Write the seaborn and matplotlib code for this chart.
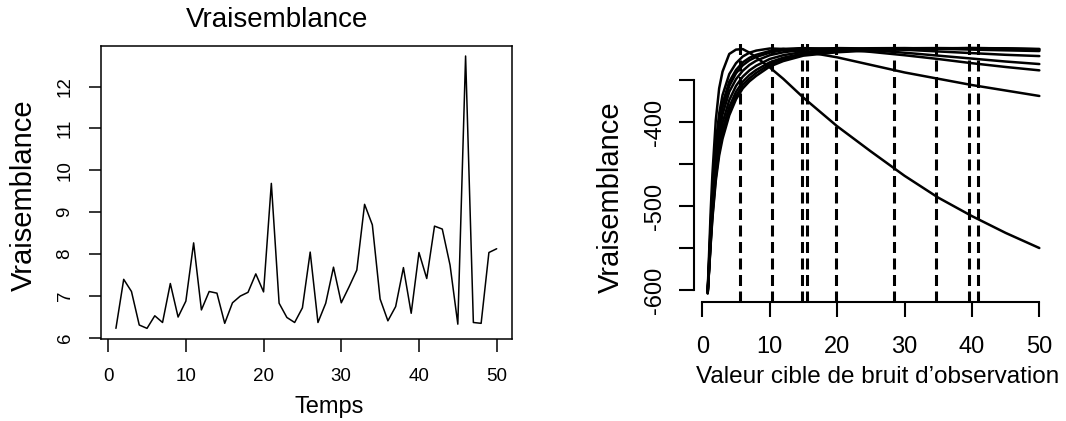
import matplotlib
matplotlib.use("Agg")
import matplotlib.pyplot as plt
import numpy as np
import pandas as pd
import seaborn as sns

# ---------------- Left panel data ----------------
temps = list(range(1, 51))
vraisemblance = [6.23, 7.40, 7.11, 6.31, 6.23, 6.53, 6.37, 7.30, 6.50, 6.88,
                 8.27, 6.67, 7.11, 7.07, 6.35, 6.84, 7.00, 7.09, 7.53, 7.10,
                 9.69, 6.83, 6.49, 6.37, 6.72, 8.05, 6.37, 6.83, 7.69, 6.84,
                 7.22, 7.62, 9.19, 8.70, 6.93, 6.41, 6.75, 7.68, 6.59, 8.04,
                 7.42, 8.67, 8.60, 7.74, 6.33, 12.73, 6.37, 6.35, 8.04, 8.13]
left_xticks = [0, 10, 20, 30, 40, 50]
left_yticks = [6, 7, 8, 9, 10, 11, 12]

# ---------------- Right panel data ----------------
bruit = [0.8, 1, 1.25, 1.5, 2, 2.5, 3, 4, 5, 6, 7, 8, 10, 12, 15, 20, 25, 30, 35, 40, 45, 50]
courbe_1 = [-600, -558, -505, -462, -398, -360, -340, -319, -313.8, -313.2, -317.5, -323,
            -335, -348.5, -371, -405, -435, -464, -490, -512, -532, -550]
courbe_2 = [-601, -566, -520, -482, -425, -390, -368, -343, -330, -322, -317.5, -315,
            -312.5, -313, -316, -323, -332, -341, -348.5, -356, -362.5, -369]
courbe_3 = [-602, -569, -526, -490, -435, -400, -378, -352, -338, -329, -323.5, -320,
            -315.5, -313, -312, -313.5, -316.5, -320.5, -325, -330, -334.5, -338.5]
courbe_4 = [-602, -571, -529, -494, -440, -405, -383, -357, -342, -332.5, -326.5, -322.5,
            -317.5, -314.5, -312.5, -312.5, -314.5, -317.5, -321, -324.5, -328, -331]
courbe_5 = [-603, -573, -533, -499, -447, -413, -391, -364, -349, -339, -332, -327,
            -320.5, -317, -314, -312, -312.5, -314, -316, -318, -320, -321.5]
courbe_6 = [-603, -575, -537, -504, -455, -422, -401, -374, -357, -346, -338.5, -333,
            -325, -320.5, -316.5, -313.5, -312.2, -312, -312.8, -313.8, -314.7, -315.5]
courbe_7 = [-603.5, -576, -540, -508, -461, -429, -409, -382, -364, -352, -344, -338,
            -329, -323.5, -318.5, -315, -313, -312.2, -312, -312.5, -313.5, -314.5]
courbe_8 = [-604, -577, -543, -512, -466, -435, -415, -388, -369, -356, -348, -341.5,
            -331.5, -325.5, -320, -316, -314, -312.8, -312.2, -312, -312.4, -313.5]
courbe_9 = [-604, -578, -545, -515, -470, -440, -420, -392, -373, -360, -351.5, -345,
            -334, -327.5, -321, -317, -314.8, -313.4, -312.5, -312, -312.3, -313]
cibles = [5.59, 10.39, 14.75, 15.49, 19.79, 28.40, 34.63, 39.52, 40.90]
right_xticks = [0, 10, 20, 30, 40, 50]
right_yticks = [-600, -550, -500, -450, -400, -350]
right_yticklabels = ["-600", "", "-500", "", "-400", ""]

courbes = [courbe_1, courbe_2, courbe_3, courbe_4, courbe_5,
           courbe_6, courbe_7, courbe_8, courbe_9]
rows = []
for k, c in enumerate(courbes):
    for xv, yv in zip(bruit, c):
        rows.append({"bruit": xv, "vraisemblance": yv, "courbe": f"c{k+1}"})
df_right = pd.DataFrame(rows)

# ---------------- Style ----------------
sns.set_theme(style="white")
plt.rcParams["font.family"] = ["Liberation Sans", "DejaVu Sans"]
plt.rcParams["axes.edgecolor"] = "black"
plt.rcParams["text.color"] = "black"
plt.rcParams["xtick.color"] = "black"
plt.rcParams["ytick.color"] = "black"
plt.rcParams["axes.labelcolor"] = "black"

W, H = 1066, 421
fig = plt.figure(figsize=(W / 100, H / 100), dpi=100)

# Left axes (pixel box: x 100.7-511.9, y 45.7-339)
l_left, l_right, l_top, l_bot = 100.7, 511.9, 45.7, 339.0
ax1 = fig.add_axes([l_left / W, 1 - l_bot / H, (l_right - l_left) / W, (l_bot - l_top) / H])
sns.lineplot(x=temps, y=vraisemblance, color="black", linewidth=1.1, ax=ax1)
ax1.set_xlim(-0.96, 51.96)
ax1.set_ylim(5.976, 12.976)
ax1.set_xticks(left_xticks)
ax1.set_yticks(left_yticks)
ax1.set_xticklabels([str(v) for v in left_xticks])
ax1.set_yticklabels([str(v) for v in left_yticks])
for s in ax1.spines.values():
    s.set_linewidth(1.1)
    s.set_color("black")
ax1.tick_params(axis="both", which="both", bottom=True, left=True, top=False, right=False,
                direction="out", length=9, width=1.1, labelsize=13.5)
ax1.tick_params(axis="x", pad=12)
ax1.tick_params(axis="y", pad=10.5)
for lbl in ax1.get_yticklabels():
    lbl.set_rotation(90)
    lbl.set_va("center")
    lbl.set_ha("right")
ax1.set_xlabel("Temps", fontsize=17)
ax1.xaxis.set_label_coords(0.555, -0.2308)
ax1.xaxis.label.set_va("center")
ax1.set_ylabel("Vraisemblance", fontsize=21)
ax1.yaxis.set_label_coords(-0.1865, 0.491)
ax1.yaxis.label.set_va("center")
ax1.set_title("Vraisemblance", fontsize=20, x=0.4287, y=1.0876, pad=0, va="center")

# Right axes (pixel region: x 694.3-1052.6, y 38-301.7)
r_left, r_right, r_top, r_bot = 694.3, 1052.6, 38.0, 301.7
ax2 = fig.add_axes([r_left / W, 1 - r_bot / H, (r_right - r_left) / W, (r_bot - r_top) / H])
sns.lineplot(data=df_right, x="bruit", y="vraisemblance", hue="courbe",
             palette=["black"] * len(courbes), legend=False, linewidth=1.8,
             estimator=None, ax=ax2)
for v in cibles:
    ax2.axvline(v, color="black", linewidth=2.2, linestyle=(0, (3.6, 1.8)))
ax2.set_xlim(-1.187, 51.97)
ax2.set_ylim(-613.9, -300)
ax2.set_xticks(right_xticks)
ax2.set_xticklabels([str(v) for v in right_xticks])
ax2.set_yticks(right_yticks)
ax2.set_yticklabels(right_yticklabels)
ax2.spines["top"].set_visible(False)
ax2.spines["right"].set_visible(False)
ax2.spines["left"].set_bounds(-600, -350)
ax2.spines["bottom"].set_bounds(0, 50)
for s in ("left", "bottom"):
    ax2.spines[s].set_linewidth(1.5)
    ax2.spines[s].set_color("black")
ax2.tick_params(axis="both", which="both", bottom=True, left=True, top=False, right=False,
                direction="out", length=10.5, width=1.5, labelsize=17)
ax2.tick_params(axis="x", pad=14.5)
ax2.tick_params(axis="y", pad=10)
for lbl in ax2.get_yticklabels():
    lbl.set_rotation(90)
    lbl.set_va("center")
    lbl.set_ha("right")
ax2.set_xlabel("Valeur cible de bruit d\u2019observation", fontsize=17.5)
ax2.xaxis.set_label_coords(0.5127, -0.2856)
ax2.xaxis.label.set_va("center")
ax2.set_ylabel("Vraisemblance", fontsize=21)
ax2.yaxis.set_label_coords(-0.2325, 0.397)
ax2.yaxis.label.set_va("center")

fig.savefig("out.png", dpi=100)
